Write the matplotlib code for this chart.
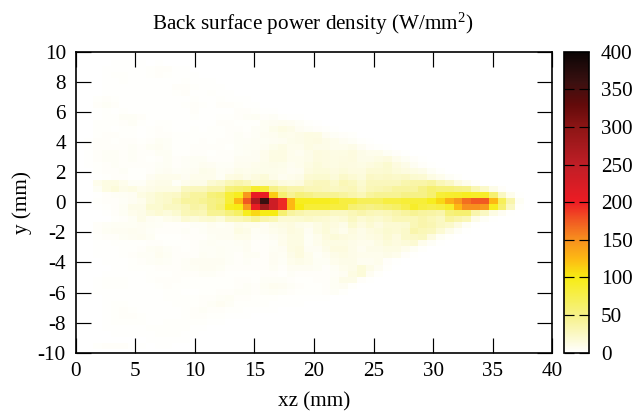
import numpy as np
import matplotlib
matplotlib.use('Agg')
import matplotlib.pyplot as plt
from matplotlib.colors import LinearSegmentedColormap

plt.rcParams['font.family'] = ['Liberation Serif', 'DejaVu Serif']
plt.rcParams['mathtext.fontset'] = 'custom'
plt.rcParams['mathtext.rm'] = 'Liberation Serif'
plt.rcParams['mathtext.it'] = 'Liberation Serif'
plt.rcParams['axes.unicode_minus'] = False

# power density per cell, one list per row, left to right (rows named by index from the axis, p = above, m = below)
row_p23 = [0,0,0,0,1,1,1,1,0,1]
row_p22 = [0,0,0,1,1,1,1,1,2,3,3,1,1]
row_p21 = [0,0,0,1,2,2,1,1,2,3,2,1,1,1]
row_p20 = [0,0,0,1,1,2,1,1,1,1,1,1,2,1,1,1]
row_p19 = [0,0,0,1,1,1,1,1,1,1,1,3,3,2,1,1,1]
row_p18 = [0,0,0,1,1,1,1,1,1,1,1,2,3,1,1,2,1,1]
row_p17 = [0,0,2,3,2,1,1,1,1,1,1,1,1,2,1,1,2,1,1,1]
row_p16 = [0,0,3,4,3,1,1,1,1,1,1,1,2,3,2,1,3,3,2,1,1]
row_p15 = [0,0,1,2,1,2,1,1,1,1,1,1,1,3,1,1,1,1,3,3,2,1,1]
row_p14 = [0,0,1,2,2,4,4,3,1,1,1,1,1,2,1,1,2,2,3,4,5,3,4,2,1,1]
row_p13 = [0,0,2,2,2,3,4,2,1,2,2,1,1,1,1,1,3,3,2,2,2,5,6,7,6,4,2,1]
row_p12 = [0,0,2,2,1,2,2,1,2,3,2,1,1,2,1,2,2,3,3,2,4,5,9,12,10,6,4,3,2,1]
row_p11 = [0,0,2,3,3,2,2,1,2,3,3,2,2,2,2,2,2,3,4,3,4,6,7,9,8,10,12,11,6,4,3,2]
row_p10 = [0,1,3,3,2,3,3,2,3,5,4,2,2,2,3,2,3,3,4,4,5,5,6,7,9,10,12,13,10,8,6,4,2,1]
row_p9 = [0,1,3,3,3,3,4,3,5,6,4,2,2,3,3,3,3,2,4,5,5,6,9,11,8,8,12,10,10,8,8,10,6,3,2,1]
row_p8 = [0,1,3,4,4,3,4,3,3,5,5,2,2,3,3,2,3,3,4,5,6,8,11,12,8,7,10,14,13,11,12,14,10,8,8,5,3,1]
row_p7 = [0,1,3,4,4,3,4,3,2,3,5,3,4,5,5,3,3,3,6,6,6,8,12,12,8,8,10,14,13,12,13,14,10,10,12,14,8,5,3,1]
row_p6 = [0,1,2,3,4,3,3,3,3,4,5,3,4,5,7,6,4,4,7,7,8,9,10,9,7,8,12,15,13,12,14,13,11,14,16,20,14,10,6,3,1]
row_p5 = [0,0,2,3,3,4,2,2,3,5,6,4,5,6,9,8,5,6,9,8,9,9,9,8,6,7,14,16,16,14,16,14,14,18,18,20,16,14,12,10,5,2]
row_p4 = [0,0,1,2,3,3,2,2,6,8,8,8,6,8,8,8,5,12,14,10,14,16,10,7,8,10,18,20,20,16,22,18,15,24,22,24,22,24,20,18,12,8,4,2]
row_p3 = [0,0,8,12,12,8,4,4,8,10,10,4,8,10,10,18,22,30,35,30,20,20,20,14,12,14,24,28,28,22,30,26,20,28,28,28,28,34,36,36,40,30,24,14,8,3]
row_p2 = [0,0,5,12,15,10,12,8,10,12,12,12,25,28,28,35,35,55,60,65,90,85,50,40,35,35,30,30,28,25,28,30,22,30,32,35,40,40,40,50,60,55,55,50,48,32,22,10,3]
row_p1 = [0,0,1,3,4,5,6,12,15,20,22,24,35,40,40,55,60,85,95,145,205,205,115,60,45,55,50,45,45,45,40,35,30,40,45,45,45,50,50,50,60,85,88,90,95,92,90,60,25,8,1]
row_0 = [0,0,2,3,3,4,6,8,15,20,22,30,40,40,45,50,55,85,125,175,270,360,235,195,125,95,95,95,95,90,80,80,70,70,70,80,80,85,85,85,95,110,130,145,165,175,175,125,70,35,5]
row_m1 = [0,0,1,2,3,5,10,10,20,20,25,25,30,38,35,50,60,95,100,145,205,280,235,195,125,100,85,85,85,80,80,60,55,50,55,60,65,75,90,80,75,80,90,125,150,150,145,95,60,25,2]
row_m2 = [0,0,0,1,3,5,8,10,15,18,15,20,30,32,30,45,45,55,65,95,110,100,100,60,40,35,30,30,30,25,25,30,35,30,28,30,35,40,45,40,38,35,55,60,60,35,25,12,6,1]
row_m3 = [0,0,0,0,2,3,5,10,6,5,8,10,18,15,18,20,15,28,30,35,45,35,30,18,18,20,22,20,18,16,18,25,18,22,20,24,30,30,30,35,30,25,40,35,30,10,4,1]
row_m4 = [0,0,3,4,5,5,5,6,5,4,3,3,3,4,4,7,5,6,10,8,8,6,10,12,14,10,8,12,16,14,10,20,14,18,14,18,18,20,30,35,32,25,22,14,5,1]
row_m5 = [0,0,3,5,6,6,7,6,4,3,3,3,4,3,4,6,6,6,12,10,5,6,8,10,14,12,6,12,16,12,8,14,10,14,16,20,18,22,35,30,28,18,10,4,1]
row_m6 = [0,0,2,3,3,5,6,7,5,2,2,2,3,3,3,5,6,6,8,8,4,4,6,8,12,12,5,8,14,16,14,12,10,12,14,18,14,22,24,26,14,5,2]
row_m7 = [0,0,1,1,2,2,2,2,3,3,2,2,2,3,4,5,4,4,5,6,3,3,4,8,12,12,5,8,12,12,12,10,8,8,12,16,14,16,18,8,4,1]
row_m8 = [0,0,1,1,1,2,2,3,5,6,4,3,2,3,4,4,5,4,4,6,3,3,5,6,12,14,6,6,10,14,14,10,7,10,10,12,12,8,5,2]
row_m9 = [0,0,1,1,1,2,3,4,4,7,5,3,3,3,5,4,5,4,3,5,5,3,6,5,10,14,8,4,7,10,12,10,8,8,8,10,8,3,1]
row_m10 = [0,0,0,1,1,1,2,3,4,5,4,3,4,6,6,6,6,4,3,4,3,3,6,4,8,10,8,5,5,8,10,10,7,7,8,3,1]
row_m11 = [0,0,0,0,1,1,2,2,2,3,3,3,4,5,6,6,5,3,3,3,3,3,5,3,6,6,6,5,3,5,8,10,16,10,6,2]
row_m12 = [0,0,0,1,1,1,1,1,2,2,2,3,3,3,4,4,3,2,2,2,2,3,3,2,4,3,3,3,3,4,6,12,16,6,2]
row_m13 = [0,0,1,2,2,2,1,1,2,3,3,3,2,2,2,2,2,2,3,3,2,4,4,4,3,2,2,3,3,5,10,10,3,1]
row_m14 = [0,0,1,2,2,2,1,1,1,2,3,2,2,2,2,2,2,2,3,4,3,5,7,6,4,3,2,2,3,5,6,2]
row_m15 = [0,0,1,1,1,1,1,1,1,1,2,2,1,1,2,2,3,3,4,4,3,4,5,4,3,2,2,2,3,4,2]
row_m16 = [0,0,0,1,1,1,1,1,1,1,2,2,2,2,3,3,4,5,3,3,2,2,2,1,1,1,1,1,1]
row_m17 = [0,0,0,1,2,2,1,1,1,1,1,2,2,2,3,4,6,4,2,2,2,2,1,1,1,1]
row_m18 = [0,0,0,1,2,3,2,1,1,1,1,1,2,3,4,3,3,2,2,1,1,1,1]
row_m19 = [0,0,0,1,2,3,3,2,1,1,1,1,2,3,3,2,2,1,1,1]
row_m20 = [0,0,0,1,2,2,2,2,1,1,2,2,2,2,2,1,1]
row_m21 = [0,0,0,1,1,1,1,1,2,2,2,2,2,1,1]
row_m22 = [0,0,0,0,1,1,1,1,1,2,2,2,1,1]
row_m23 = [0,0,0,0,0,0,0,0,1,1,1,1,1]
row_m24 = [0,0,2,3,3,3,1,1,0,1,1]

rows_top_down = [
    row_p23, row_p22, row_p21, row_p20, row_p19, row_p18, row_p17, row_p16,
    row_p15, row_p14, row_p13, row_p12, row_p11, row_p10, row_p9, row_p8,
    row_p7, row_p6, row_p5, row_p4, row_p3, row_p2, row_p1, row_0,
    row_m1, row_m2, row_m3, row_m4, row_m5, row_m6, row_m7, row_m8,
    row_m9, row_m10, row_m11, row_m12, row_m13, row_m14, row_m15, row_m16,
    row_m17, row_m18, row_m19, row_m20, row_m21, row_m22, row_m23, row_m24,
]
x_ticks = [0, 5, 10, 15, 20, 25, 30, 35, 40]
y_ticks = [-10, -8, -6, -4, -2, 0, 2, 4, 6, 8, 10]
cb_ticks = [0, 50, 100, 150, 200, 250, 300, 350, 400]

n_cols = 54
grid = np.zeros((len(rows_top_down), n_cols))
for r, vals in enumerate(rows_top_down):
    grid[r, :len(vals)] = vals

dx = 0.7376
dy = 0.4
x_edges = np.arange(n_cols + 1) * dx
# row_0 spans -0.14 to 0.26, the rest stack from there
y_edges = 0.26 + dy * (23 - np.arange(len(rows_top_down) + 1))

stops = [(0, '#ffffff'), (50, '#f6f186'), (100, '#f7ec13'), (125, '#fdb813'), (150, '#f7901e'),
         (175, '#f15a22'), (200, '#ed1c24'), (250, '#bf1e26'), (300, '#8c1515'),
         (330, '#620a0a'), (360, '#3a1010'), (400, '#0a0505')]
cmap = LinearSegmentedColormap.from_list('power', [(v / 400, c) for v, c in stops], N=512)

W, H = 644, 412
fig = plt.figure(figsize=(W / 100, H / 100), dpi=100)
ax = fig.add_axes([75.5 / W, 1 - 352.7 / H, 476.8 / W, 301 / H])
mesh = ax.pcolormesh(x_edges, y_edges, grid, cmap=cmap, vmin=0, vmax=400, linewidth=0, rasterized=True)
ax.set_xlim(0, 40)
ax.set_ylim(-10, 10)
ax.set_xticks(x_ticks)
ax.set_yticks(y_ticks)
ax.tick_params(direction='in', length=10.5, width=0.85, top=True, right=True, labelsize=15.2, pad=7)
ax.set_xlabel('xz (mm)', fontsize=15.2)
ax.set_ylabel('y (mm)', fontsize=15.2)
ax.xaxis.set_label_coords(0.5, 1 - (401.5 - 51.7) / 301, transform=ax.transAxes)
ax.xaxis.label.set_va('center')
ax.yaxis.set_label_coords((22 - 75.5) / 476.8, 0.5, transform=ax.transAxes)
ax.yaxis.label.set_va('center')
for s in ax.spines.values():
    s.set_linewidth(1.2)
fig.text(313 / W, 1 - 24 / H, 'Back surface power density (W/mm$^{2}$)', ha='center', va='center', fontsize=15.2)

cax = fig.add_axes([563.5 / W, 1 - 352.7 / H, 25 / W, 301 / H])
cb = fig.colorbar(mesh, cax=cax)
cb.set_ticks(cb_ticks)
cb.outline.set_linewidth(1.2)
cax.tick_params(direction='in', length=7.5, width=0.85, left=True, right=True, labelsize=15.2, pad=9)

fig.savefig('out.png', dpi=100)
